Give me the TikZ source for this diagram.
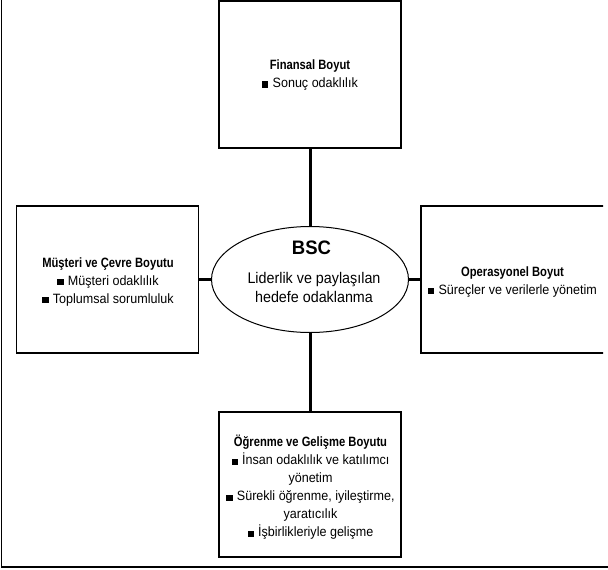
\documentclass[tikz,border=0pt]{standalone}
\usepackage{fontspec}
\setmainfont[FakeStretch=0.93]{Liberation Sans}
\newfontfamily\headfont[FakeStretch=0.83]{Liberation Sans Bold}
\newfontfamily\coreheadfont[FakeStretch=0.95]{Liberation Sans Bold}
\usetikzlibrary{shapes.geometric}

% small square bullet in front of each item
\newcommand\sqitem{\rule{6.2pt}{6.2pt}\hspace{4.3pt}}
% bold heading line of a box
\newcommand\head[1]{{\headfont #1}}

\begin{document}
\begin{tikzpicture}[x=1pt,y=-1pt,
  dimbox/.style={draw=black,line width=1.3pt,fill=white,inner sep=0pt,
    minimum width=182pt,minimum height=147pt},
  boxtext/.style={align=center,inner sep=0pt,anchor=base,
    font={\fontsize{13.5}{18}\selectfont}},
  link/.style={line width=3pt,line cap=butt},
  frameline/.style={line width=1.3pt}]

\useasboundingbox (0,0) rectangle (608,570);

% page frame (left and bottom edges)
\coordinate (ftop) at (1.5,0);
\coordinate (fcorner) at (1.5,567);
\coordinate (fright) at (608,567);
\draw[frameline] (ftop) -- (fcorner) -- (fright);

% centre ellipse
\node[ellipse,draw=black,line width=1pt,inner sep=0pt,
  minimum width=197pt,minimum height=106pt] (bsc) at (310,279.5) {};
\node[inner sep=0pt,anchor=base,font={\fontsize{19.5}{20}\selectfont\coreheadfont}]
  (bsctitle) at (311.5,254.5) {BSC};
\node[align=center,inner sep=0pt,anchor=base,
  font={\fontsize{15.4}{19.5}\selectfont}] (bsctext) at (314,302.5)
  {Liderlik ve paylaşılan\\hedefe odaklanma};

% four dimension boxes
\node[dimbox] (fin) at (310,74.5) {};
\node[boxtext] (fintext) at (310,87.5)
  {\head{Finansal Boyut}\\\sqitem Sonuç odaklılık};

\node[dimbox] (mus) at (107.5,279.5) {};
\node[boxtext] (mustext) at (108,303.3)
  {\head{Müşteri ve Çevre Boyutu}\\\sqitem Müşteri odaklılık\\\sqitem Toplumsal sorumluluk};

\begin{scope}
  \clip (0,0) rectangle (603.2,570);
  \node[dimbox,minimum width=183.5pt] (ops) at (512.75,279.5) {};
\end{scope}
\node[boxtext] (opstext) at (512.5,294)
  {\head{Operasyonel Boyut}\\\sqitem Süreçler ve verilerle yönetim};

\node[dimbox,minimum height=145pt] (ogr) at (310,484.5) {};
\node[boxtext] (ogrtext) at (310.5,536.7)
  {\head{Öğrenme ve Gelişme Boyutu}\\
   \sqitem İnsan odaklılık ve katılımcı\\yönetim\\
   \sqitem Sürekli öğrenme, iyileştirme,\\yaratıcılık\\
   \sqitem İşbirlikleriyle gelişme};

% connectors from the ellipse to each box
\draw[link] (fin.south) -- (bsc.north);
\draw[link] (bsc.south) -- (ogr.north);
\draw[link] (mus.east) -- (bsc.west);
\draw[link] (bsc.east) -- (ops.west);
\end{tikzpicture}
\end{document}
